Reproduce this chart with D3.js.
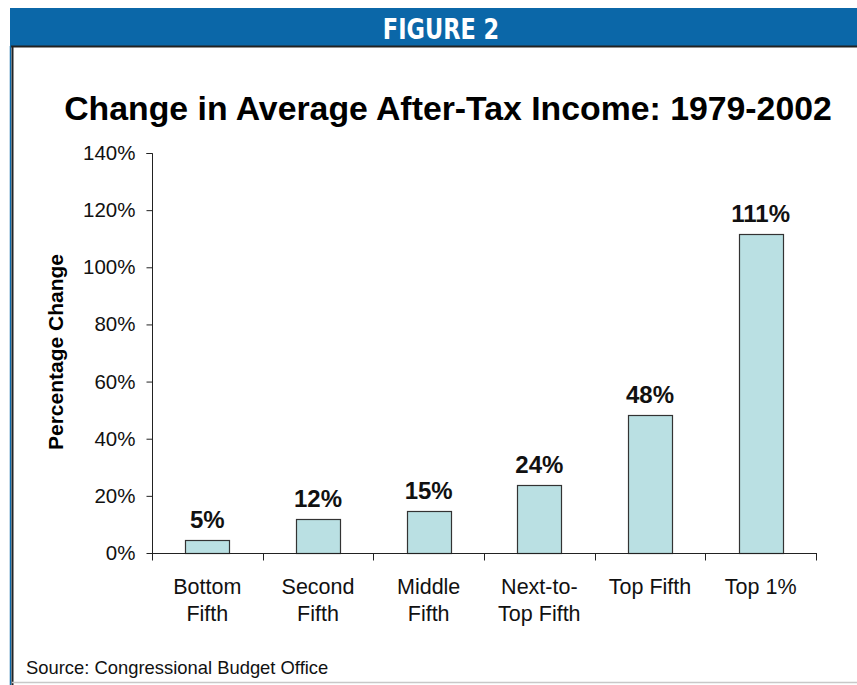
<!DOCTYPE html>
<html>
<head>
<meta charset="utf-8">
<script src="https://cdn.jsdelivr.net/npm/d3@7"></script>
<style>
  html, body { margin: 0; padding: 0; background: #fff; }
  svg { display: block; }
</style>
</head>
<body>
<svg id="chart" width="857" height="685"></svg>
<script>
const categories = [["Bottom", "Fifth"], ["Second", "Fifth"], ["Middle", "Fifth"], ["Next-to-", "Top Fifth"], ["Top Fifth"], ["Top 1%"]];
const values = [4.4, 12.0, 14.8, 23.8, 48.2, 111.5];
const valueLabels = ["5%", "12%", "15%", "24%", "48%", "111%"];
const yTicks = [0, 20, 40, 60, 80, 100, 120, 140];
const titleText = "Change in Average After-Tax Income: 1979-2002";
const headerText = "FIGURE 2";
const yTitle = "Percentage Change";
const sourceText = "Source: Congressional Budget Office";

const svg = d3.select("#chart");
const font = "'Liberation Sans', Arial, Helvetica, sans-serif";

// frame
svg.append("rect").attr("x", 10).attr("y", 8).attr("width", 847).attr("height", 38).attr("fill", "#0B67A8");
svg.append("line").attr("x1", 11).attr("x2", 857).attr("y1", 46.5).attr("y2", 46.5).attr("stroke", "#222").attr("stroke-width", 2);
svg.append("line").attr("x1", 10.5).attr("x2", 10.5).attr("y1", 46).attr("y2", 685).attr("stroke", "#0B67A8").attr("stroke-width", 1.5);
svg.append("line").attr("x1", 12.5).attr("x2", 12.5).attr("y1", 46).attr("y2", 685).attr("stroke", "#222").attr("stroke-width", 2);
svg.append("line").attr("x1", 12).attr("x2", 857).attr("y1", 682.5).attr("y2", 682.5).attr("stroke", "#c8c8c8").attr("stroke-width", 1.5);

svg.append("text").attr("transform", "translate(441,39) scale(0.86,1)").attr("text-anchor", "middle")
  .attr("fill", "#fff").attr("font-family", "'DejaVu Sans Condensed', 'DejaVu Sans', sans-serif")
  .attr("font-stretch", "condensed").attr("font-weight", "bold").attr("font-size", 29).text(headerText);

svg.append("text").attr("x", 448).attr("y", 120).attr("text-anchor", "middle")
  .attr("font-family", font).attr("font-weight", "bold").attr("font-size", 33.8).attr("fill", "#000").text(titleText);

const x0 = 152, x1 = 816, yTop = 153, yBot = 553;
const x = d3.scaleBand().domain(d3.range(categories.length)).range([x0, x1]).paddingInner(0.6).paddingOuter(0.3);
const y = d3.scaleLinear().domain([0, 140]).range([yBot, yTop]);

// bars
svg.append("g").selectAll("rect").data(values).join("rect")
  .attr("x", (d, i) => Math.round(x(i)) + 0.5)
  .attr("y", d => Math.round(y(d)) + 0.5)
  .attr("width", Math.round(x.bandwidth()))
  .attr("height", d => Math.round(yBot - y(d)))
  .attr("fill", "#BAE0E3").attr("stroke", "#333").attr("stroke-width", 1.2);

svg.append("g").selectAll("text").data(values).join("text")
  .attr("x", (d, i) => x(i) + x.bandwidth() / 2)
  .attr("y", d => y(d) - 12)
  .attr("text-anchor", "middle").attr("font-family", font).attr("font-weight", "bold")
  .attr("font-size", 24).attr("fill", "#111").text((d, i) => valueLabels[i]);

// y axis
const yAxis = d3.axisLeft(y).tickValues(yTicks).tickSize(6).tickPadding(11).tickFormat(d => d + "%");
const gy = svg.append("g").attr("transform", `translate(${x0 + 0.5},0)`).call(yAxis);
gy.select(".domain").attr("stroke", "#222").attr("d", `M-6,${yTop + 0.5}H0V${yBot + 0.5}`);
gy.selectAll(".tick line").attr("stroke", "#222");
gy.selectAll(".tick text").attr("font-family", font).attr("font-size", 20.5).attr("fill", "#111");

// x axis
const gx = svg.append("g").attr("transform", `translate(0,${yBot + 0.5})`);
gx.append("line").attr("x1", x0).attr("x2", x1 + 1).attr("y1", 0).attr("y2", 0).attr("stroke", "#222");
const tickPos = d3.range(categories.length + 1).map(i => x0 + i * (x1 - x0) / categories.length);
gx.selectAll("line.t").data(tickPos).join("line").attr("class", "t")
  .attr("x1", d => Math.round(d) + 0.5).attr("x2", d => Math.round(d) + 0.5).attr("y1", 0).attr("y2", 7).attr("stroke", "#222");

const labels = svg.append("g").selectAll("text").data(categories).join("text")
  .attr("text-anchor", "middle").attr("font-family", font).attr("font-size", 21.5).attr("fill", "#111")
  .attr("transform", (d, i) => `translate(${x(i) + x.bandwidth() / 2},${594})`);
labels.selectAll("tspan").data(d => d).join("tspan")
  .attr("x", 0).attr("dy", (d, j) => j === 0 ? 0 : 27).text(d => d);

svg.append("text").attr("transform", `translate(63,352) rotate(-90)`).attr("text-anchor", "middle")
  .attr("font-family", font).attr("font-weight", "bold").attr("font-size", 21).attr("fill", "#000").text(yTitle);

svg.append("text").attr("x", 26).attr("y", 674).attr("font-family", font).attr("font-size", 18.4).attr("fill", "#111").text(sourceText);
</script>
</body>
</html>
